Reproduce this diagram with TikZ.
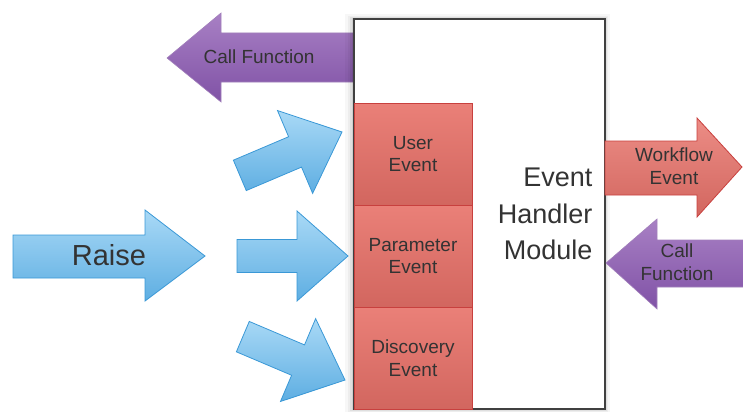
\documentclass[tikz,border=0pt]{standalone}
\usepackage{fontspec}
\setmainfont{Liberation Sans}
\usepackage{tikz}

\definecolor{txt}{HTML}{333333}
\definecolor{bluetop}{HTML}{A9D9F6}
\definecolor{bluebot}{HTML}{5EAEE2}
\definecolor{blueline}{HTML}{3A98D6}
\definecolor{redtop}{HTML}{EA8078}
\definecolor{redbot}{HTML}{D2665F}
\definecolor{redline}{HTML}{C8403E}
\definecolor{purtop}{HTML}{A880C4}
\definecolor{purbot}{HTML}{8052A6}
\definecolor{purline}{HTML}{7A4A9E}

\tikzset{
  bluearrow/.style={draw=blueline, line width=0.8pt, top color=bluetop, bottom color=bluebot},
  redarrow/.style={draw=redline, line width=0.8pt, top color=redtop!90!white, bottom color=redbot},
  purarrow/.style={draw=purline!70, line width=0.6pt, top color=purtop, bottom color=purbot},
  eventbox/.style={draw=redline, line width=1pt, top color=redtop, bottom color=redbot,
    minimum width=118pt, minimum height=102pt, inner sep=0pt, align=center, text=txt,
    font=\fontsize{19}{22.5}\selectfont},
  small/.style={text=txt, align=center, font=\fontsize{19}{22.5}\selectfont}
}

\begin{document}
\begin{tikzpicture}[x=1pt,y=-1pt]
	\useasboundingbox (0,0) rectangle (743,412);
	
	%call function, out to the left (behind the module)
	\draw[purarrow] (358,33)--(221,33)--(221,13)--(167,58)--(221,102)--(221,82)--(358,82)--cycle;
	\node[small] (callleft) at (259,57) {Call Function};
	
	%shadow of the module, soft edge
	\fill[black,opacity=0.03] (345,14) rectangle (610,412);
	\fill[black,opacity=0.04] (348,16) rectangle (608,412);
	\fill[black,opacity=0.06] (350,17) rectangle (607,411);
	\fill[black,opacity=0.08] (352,18) rectangle (606,410);
	
	%module
	\node[draw=black!75, line width=1.2pt, fill=white, minimum width=251pt, minimum height=390pt,
	      inner sep=0pt] (ehm) at (479.5,214) {};
	\node[anchor=east, align=right, text=txt, font=\fontsize{27}{36.5}\selectfont]
	      (ehmlabel) at (596,214) {Event\\Handler\\Module};
	
	%events
	\node[eventbox] (user)      at (413,154) {User\\Event};
	\node[eventbox] (param)     at (413,256) {Parameter\\Event};
	\node[eventbox] (discovery) at (413,358) {Discovery\\Event};
	
	%raise
	\draw[bluearrow] (13,235)--(145,235)--(145,210)--(205,256)--(145,301)--(145,278)--(13,278)--cycle;
	\node[text=txt, font=\fontsize{29}{34}\selectfont] (raise) at (109,255) {Raise};
	
	%arrows into the events
	\draw[bluearrow, shift={(342,132)}, rotate=23]
		(-111,-16.5)--(-51,-16.5)--(-51,-45)--(0,0)--(-51,45)--(-51,16.5)--(-111,16.5)--cycle;
	\draw[bluearrow, shift={(348,256)}]
		(-111,-16.5)--(-51,-16.5)--(-51,-45)--(0,0)--(-51,45)--(-51,16.5)--(-111,16.5)--cycle;
	\draw[bluearrow, shift={(345,380)}, rotate=-23]
		(-111,-16.5)--(-51,-16.5)--(-51,-45)--(0,0)--(-51,45)--(-51,16.5)--(-111,16.5)--cycle;
	
	%right side
	\draw[redarrow] (605,141)--(697,141)--(697,118)--(742,167)--(697,217)--(697,195)--(605,195)--cycle;
	\node[small] (workflow) at (674,166) {Workflow\\Event};
	%
	\draw[purarrow] (745,240)--(657,240)--(657,219)--(606,263)--(657,309)--(657,287)--(745,287)--cycle;
	\node[small] (callright) at (677,262) {Call\\Function};
	%\draw[help lines,step=50] (0,0) grid (743,412);
\end{tikzpicture}
\end{document}
